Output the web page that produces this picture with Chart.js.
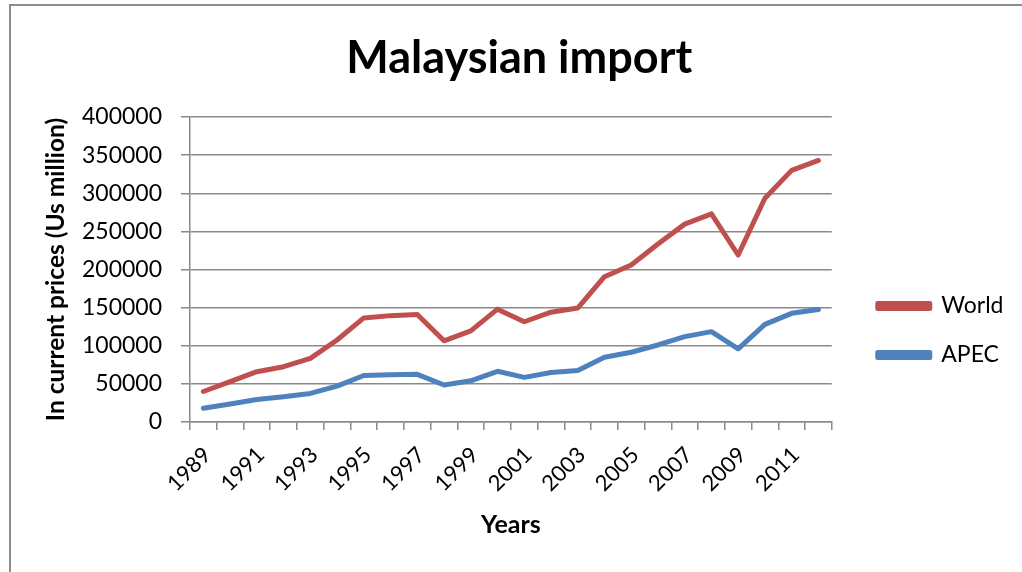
<!DOCTYPE html>
<html>
<head>
<meta charset="utf-8">
<script src="https://cdn.jsdelivr.net/npm/chart.js@4"></script>
<style>
    body { margin: 0; background: #fff; }
    #wrap { position: relative; width: 1022px; height: 572px; overflow: hidden; }
    #frame {
        position: absolute; left: 9px; top: 4px; width: 1100px; height: 700px;
        border-left: 2px solid #8c8c8c; border-top: 2px solid #8c8c8c;
        pointer-events: none;
    }
</style>
</head>
<body>
<div id="wrap">
    <canvas id="myChart" width="1022" height="572"></canvas>
    <div id="frame"></div>
</div>
<script>
    // Data-----
    const years = ['1989', '1990', '1991', '1992', '1993', '1994', '1995', '1996', '1997', '1998', '1999', '2000',
                   '2001', '2002', '2003', '2004', '2005', '2006', '2007', '2008', '2009', '2010', '2011', '2012'];
    const world = [40000, 53000, 66000, 72500, 83500, 107500, 136500, 139500, 141000, 106500, 119500, 148000,
                   131500, 144000, 149500, 190500, 206000, 233500, 259500, 273000, 219000, 293500, 330000, 343000];
    const apec = [18000, 23500, 29500, 33000, 37500, 47000, 61000, 62000, 62500, 48500, 54000, 66500,
                  58500, 65000, 67500, 85000, 91500, 101000, 112000, 118500, 96000, 128000, 142500, 147500];
    const yTicks = [0, 50000, 100000, 150000, 200000, 250000, 300000, 350000, 400000];
    // Data-----

    const gridColor = '#8a8a8a';
    const font = "Lato, 'Open Sans', sans-serif";

    // Config-----
    const config = {
        type: 'line',
        data: {
            labels: years,
            datasets: [{
                label: 'World',
                data: world,
                borderColor: '#C0504D',
                backgroundColor: '#C0504D',
                borderWidth: 5,
                pointRadius: 0,
                borderCapStyle: 'round',
                borderJoinStyle: 'round'
            }, {
                label: 'APEC',
                data: apec,
                borderColor: '#4F81BD',
                backgroundColor: '#4F81BD',
                borderWidth: 5,
                pointRadius: 0,
                borderCapStyle: 'round',
                borderJoinStyle: 'round'
            }]
        },
        options: {
            responsive: false,
            animation: false,
            layout: {
                padding: {left: 25, top: 7, right: 8.5, bottom: 0}
            },
            plugins: {
                title: {
                    display: true,
                    text: 'Malaysian import',
                    color: '#000',
                    font: {family: font, size: 45, weight: 'bold'},
                    padding: {top: 24, bottom: 32}
                },
                legend: {
                    position: 'right',
                    align: 'start',
                    fullSize: false,
                    // blank legend title only pushes the two entries down
                    title: {display: true, text: '', padding: {top: 137, bottom: 0}},
                    labels: {
                        boxWidth: 52,
                        boxHeight: 5,
                        padding: 26,
                        color: '#000',
                        font: {family: font, size: 23}
                    }
                },
                tooltip: {enabled: false}
            },
            scales: {
                x: {
                    offset: true,
                    grid: {
                        offset: true,
                        drawOnChartArea: false,
                        drawTicks: true,
                        tickLength: 8,
                        color: gridColor,
                        lineWidth: 1.5
                    },
                    border: {color: gridColor, width: 1.5},
                    ticks: {
                        autoSkip: false,
                        minRotation: 45,
                        maxRotation: 45,
                        padding: 12,
                        labelOffset: 4,
                        color: '#000',
                        font: {family: font, size: 22},
                        callback: (v, i) => i % 2 === 0 ? years[i] : ''
                    },
                    title: {
                        display: true,
                        text: 'Years',
                        color: '#000',
                        font: {family: font, size: 25, weight: 'bold'},
                        padding: {top: 0, bottom: 32}
                    },
                    afterFit: (s) => { s.height = 150; }
                },
                y: {
                    min: 0,
                    max: 400000,
                    grid: {
                        color: gridColor,
                        lineWidth: 1.5,
                        tickLength: 9
                    },
                    border: {color: gridColor, width: 1.5},
                    afterBuildTicks: (s) => { s.ticks = yTicks.map(v => ({value: v})); },
                    ticks: {
                        padding: 19,
                        color: '#000',
                        font: {family: font, size: 23},
                        callback: (v) => String(v)
                    },
                    title: {
                        display: true,
                        text: 'In current prices (Us million)',
                        color: '#000',
                        font: {family: font, size: 24.5, weight: 'bold'},
                        padding: {top: 16, bottom: 0}
                    },
                    afterFit: (s) => { s.width = 165; }
                },
                // empty gap between the plot and the legend
                gap: {
                    type: 'linear',
                    position: 'right',
                    display: true,
                    grid: {display: false},
                    border: {display: false},
                    ticks: {display: false},
                    afterFit: (s) => { s.width = 20; }
                }
            }
        }
    };
    // Config-----

    var myChart = new Chart(
        document.getElementById('myChart'),
        config
    );
</script>
</body>
</html>
